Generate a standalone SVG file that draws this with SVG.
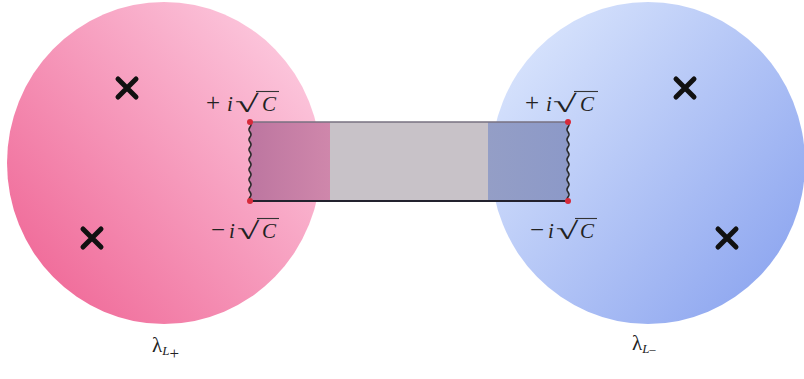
<svg xmlns="http://www.w3.org/2000/svg" width="804" height="379" viewBox="0 0 804 379">
<style>
.lbl{font-family:"Liberation Serif","DejaVu Serif",serif;font-size:21px;fill:#222;}
.op{font-size:25px;}
.mi{font-style:italic;}
.rad{font-size:24px;}
.cross{stroke:#111;stroke-width:5;stroke-linecap:round;}
.wave{fill:none;stroke:#2a2a2a;stroke-width:1.6;}
.dot{fill:#d62a3a;}
.bar{stroke:#333;stroke-width:1.1;}
</style>
<defs>
<linearGradient id="gPink" x1="0.1" y1="0.85" x2="0.9" y2="0.15">
<stop offset="0" stop-color="#f06c9a"/>
<stop offset="1" stop-color="#fcc6dc"/>
</linearGradient>
<linearGradient id="gBlue" x1="0.1" y1="0.15" x2="0.9" y2="0.85">
<stop offset="0" stop-color="#d6e2fc"/>
<stop offset="1" stop-color="#90a8f0"/>
</linearGradient>
<linearGradient id="gBandL" x1="0" y1="0" x2="1" y2="0">
<stop offset="0" stop-color="#bd76a0"/>
<stop offset="1" stop-color="#cf87ab"/>
</linearGradient>
<linearGradient id="gBandR" x1="0" y1="0" x2="1" y2="0">
<stop offset="0" stop-color="#949ec6"/>
<stop offset="1" stop-color="#8c99c8"/>
</linearGradient>
</defs>
<rect width="804" height="379" fill="#ffffff"/>
<g id="region-left">
<ellipse cx="164" cy="163" rx="157" ry="161" fill="url(#gPink)"/>
</g>
<g id="region-right">
<ellipse cx="648" cy="163" rx="157" ry="161" fill="url(#gBlue)"/>
</g>
<g id="strip">
<rect x="330" y="122" width="158" height="79" fill="#c8c2c8"/>
<rect x="250" y="122" width="80" height="79" fill="url(#gBandL)"/>
<rect x="488" y="122" width="80" height="79" fill="url(#gBandR)"/>
<line x1="250" y1="122" x2="568" y2="122" stroke="#777080" stroke-width="1.4"/>
<line x1="250" y1="201" x2="568" y2="201" stroke="#23222e" stroke-width="2.2"/>
</g>
<g id="connectors">
<path class="wave" d="M250,122 q2,2.5 0,5 q-2,2.5 0,5 q2,2.5 0,5 q-2,2.5 0,5 q2,2.5 0,5 q-2,2.5 0,5 q2,2.5 0,5 q-2,2.5 0,5 q2,2.5 0,5 q-2,2.5 0,5 q2,2.5 0,5 q-2,2.5 0,5 q2,2.5 0,5 q-2,2.5 0,5 q2,2.5 0,5 q-2,2.5 0,4"/>
<path class="wave" d="M568,122 q2,2.5 0,5 q-2,2.5 0,5 q2,2.5 0,5 q-2,2.5 0,5 q2,2.5 0,5 q-2,2.5 0,5 q2,2.5 0,5 q-2,2.5 0,5 q2,2.5 0,5 q-2,2.5 0,5 q2,2.5 0,5 q-2,2.5 0,5 q2,2.5 0,5 q-2,2.5 0,5 q2,2.5 0,5 q-2,2.5 0,4"/>
</g>
<g id="branch-points">
<circle class="dot" cx="250" cy="122" r="3"/>
<circle class="dot" cx="250" cy="201" r="3"/>
<circle class="dot" cx="568" cy="122" r="3"/>
<circle class="dot" cx="568" cy="201" r="3"/>
</g>
<g id="poles">
<path class="cross" d="M118,79 L136,97 M136,79 L118,97"/>
<path class="cross" d="M83,229 L101,247 M101,229 L83,247"/>
<path class="cross" d="M676,79 L694,97 M694,79 L676,97"/>
<path class="cross" d="M718,229 L736,247 M736,229 L718,247"/>
</g>
<g id="label-top-left">
<text class="lbl op" x="206" y="111">+</text>
<text class="lbl mi" x="227" y="111">i</text>
<text class="lbl rad" transform="translate(235,112) scale(1.8,1)">√</text>
<text class="lbl mi" x="262" y="111">C</text>
<line class="bar" x1="256" y1="91.5" x2="279" y2="91.5"/>
</g>
<g id="label-bottom-left">
<text class="lbl op" x="211" y="238">−</text>
<text class="lbl mi" x="229" y="238">i</text>
<text class="lbl rad" transform="translate(237,239) scale(1.7,1)">√</text>
<text class="lbl mi" x="262" y="238">C</text>
<line class="bar" x1="257" y1="218.5" x2="279" y2="218.5"/>
</g>
<g id="label-top-right">
<text class="lbl op" x="525" y="111">+</text>
<text class="lbl mi" x="546" y="111">i</text>
<text class="lbl rad" transform="translate(553,112) scale(1.8,1)">√</text>
<text class="lbl mi" x="580" y="111">C</text>
<line class="bar" x1="574" y1="91.5" x2="598" y2="91.5"/>
</g>
<g id="label-bottom-right">
<text class="lbl op" x="530" y="238">−</text>
<text class="lbl mi" x="548" y="238">i</text>
<text class="lbl rad" transform="translate(556,239) scale(1.7,1)">√</text>
<text class="lbl mi" x="580" y="238">C</text>
<line class="bar" x1="575" y1="218.5" x2="597" y2="218.5"/>
</g>
<g id="region-labels">
<text class="lbl" x="152" y="352" font-size="19">λ<tspan class="mi" font-size="13" dy="3">L</tspan><tspan font-size="17" dy="4">+</tspan></text>
<text class="lbl" x="632" y="350" font-size="19">λ<tspan class="mi" font-size="13" dy="3">L</tspan><tspan font-size="12" dy="0">–</tspan></text>
</g>
</svg>
